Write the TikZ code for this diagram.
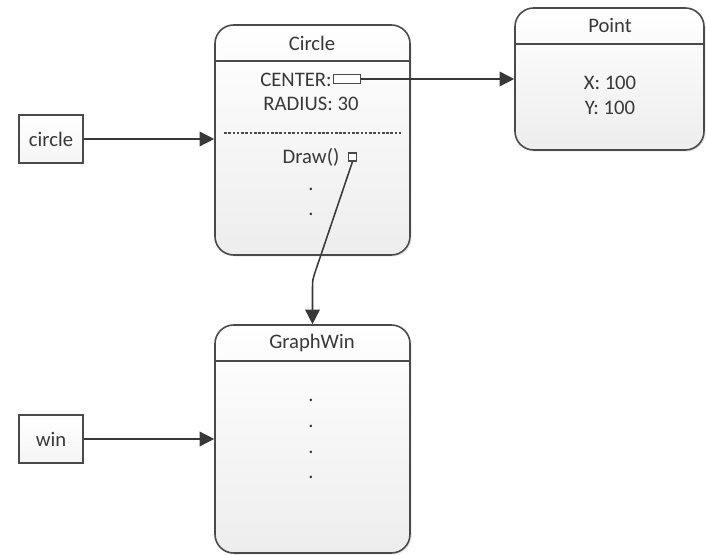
\documentclass[tikz,border=0pt]{standalone}
\usepackage{fontspec}
\setmainfont{Carlito}
\usetikzlibrary{arrows.meta,shadows}
\definecolor{edge}{HTML}{4A4A4A}
\definecolor{ink}{HTML}{383838}
\begin{document}
\begin{tikzpicture}[x=0.75pt,y=-0.75pt,
  font=\fontsize{15.5}{18}\selectfont, text=ink,
  classbox/.style={draw=edge, line width=1.2pt, rounded corners=14pt,
    top color=white, bottom color=gray!14,
    drop shadow={opacity=0.18, shadow xshift=1.2pt, shadow yshift=-1.2pt},
    path picture={\shade[top color=white, bottom color=gray!16]
      (path picture bounding box.north west) rectangle
      ([yshift=-27pt]path picture bounding box.north east);
      \draw[edge, line width=1.2pt]
      ([yshift=-27pt]path picture bounding box.north west) --
      ([yshift=-27pt]path picture bounding box.north east);}},
  varbox/.style={draw=edge, line width=1.2pt, fill=white,
    top color=white, bottom color=gray!8,
    minimum width=48pt, minimum height=36pt,
    drop shadow={opacity=0.15, shadow xshift=1pt, shadow yshift=-1pt}},
  slot/.style={draw=edge, line width=0.9pt, fill=white, inner sep=0pt},
  link/.style={draw=ink, line width=1.15pt, -{Triangle[length=11pt,width=11pt]}},
  dotmark/.style={inner sep=0pt, font=\fontsize{15.5}{18}\selectfont}
]
\useasboundingbox (0,0) rectangle (706,555);

% class boxes
\node[classbox, minimum width=146.25pt, minimum height=172.5pt] (Circle) at (312.5,140) {};
\node[classbox, minimum width=141.75pt, minimum height=106.5pt] (Point) at (609.5,79) {};
\node[classbox, minimum width=146.25pt, minimum height=171pt] (GW) at (312.5,439) {};

% variables
\node[varbox] (cvar) at (51,139) {circle};
\node[varbox] (wvar) at (51,439) {win};

% Circle contents
\node (ctitle) at (312,43) {Circle};
\node[anchor=east, inner sep=0pt] (clabel) at (332,80) {CENTER:};
\node[slot, minimum width=20pt, minimum height=7pt] (ctr) at (347,79) {};
\node (rad) at (311,104) {RADIUS: 30};
\draw[edge, line width=0.8pt, dash pattern=on 2pt off 1.2pt] (224,133) -- (401,133);
\node (drawm) at (311,157) {Draw()};
\node[slot, minimum width=6pt, minimum height=6pt] (drw) at (352.5,157) {};
\node[dotmark] (cd1) at (311,189) {.};
\node[dotmark] (cd2) at (311,214) {.};

% Point contents
\node (ptitle) at (610,25) {Point};
\node (px) at (610,83) {X: 100};
\node (py) at (610,108) {Y: 100};

% GraphWin contents
\node (gtitle) at (312,343) {GraphWin};
\node[dotmark] (gd1) at (311,400) {.};
\node[dotmark] (gd2) at (311,426) {.};
\node[dotmark] (gd3) at (311,452) {.};
\node[dotmark] (gd4) at (311,477) {.};

% references
\draw[link] (cvar.east) -- (cvar.east -| Circle.west);
\draw[link] (wvar.east) -- (wvar.east -| GW.west);
\draw[link] (ctr.east) -- (ctr.east -| Point.west);
\coordinate (bend) at (315.5,271);
\draw[link] (drw.south) -- (bend) .. controls (312.5,280) .. (312.5,290) -- (GW.north);
\end{tikzpicture}
\end{document}
